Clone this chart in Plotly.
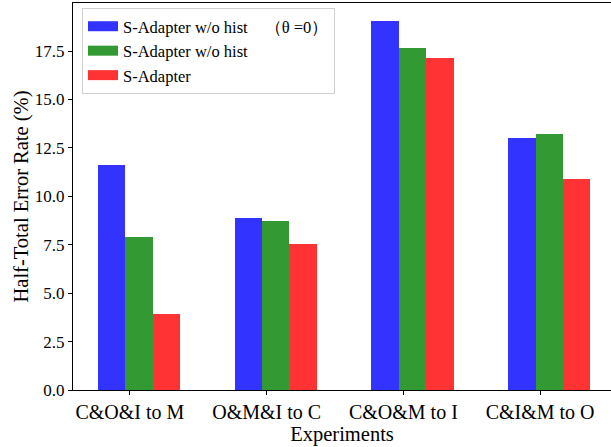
import plotly.graph_objects as go

categories = ["C&O&I to M", "O&M&I to C", "C&O&M to I", "C&I&M to O"]
series_names = ["S-Adapter w/o hist　（θ =0）", "S-Adapter w/o hist", "S-Adapter"]
blue_vals = [11.62, 8.88, 19.03, 13.01]
green_vals = [7.90, 8.72, 17.66, 13.22]
red_vals = [3.92, 7.54, 17.14, 10.89]
colors = ["#3333ff", "#339933", "#ff3333"]
y_ticks = [0, 2.5, 5, 7.5, 10, 12.5, 15, 17.5]

bar_w = 0.2
idx = list(range(len(categories)))
fig = go.Figure()
for k, (name, vals, col) in enumerate(zip(series_names, [blue_vals, green_vals, red_vals], colors)):
    fig.add_trace(go.Bar(
        x=[i + k * bar_w for i in idx], y=vals, width=bar_w,
        marker=dict(color=col, line=dict(width=0)), name=name, showlegend=False,
    ))
    fig.add_trace(go.Scatter(
        x=[None], y=[None], mode="lines", name=name,
        line=dict(color=col, width=12), showlegend=True,
    ))

font = "Liberation Serif, Times New Roman, serif"
fig.update_layout(
    width=619, height=447,
    margin=dict(l=73, r=8, t=3, b=57),
    plot_bgcolor="white", paper_bgcolor="white",
    font=dict(family=font, color="black"),
    showlegend=True, hovermode=False,
    legend=dict(
        x=(82 - 73) / 538, y=(390 - 8) / 387, xanchor="left", yanchor="top",
        bgcolor="white", bordercolor="#d0d0d0", borderwidth=1,
        font=dict(family=font, size=16.5, color="black"),
        tracegroupgap=0,
    ),
    xaxis=dict(
        range=[-0.283, 3.652], tickmode="array",
        tickvals=[i + bar_w * 2 / 3 for i in idx], ticktext=categories,
        showline=True, linecolor="black", linewidth=1.2, mirror=True,
        ticks="outside", ticklen=4, tickcolor="black", showgrid=False, zeroline=False,
        tickfont=dict(size=20, family=font), automargin=False,
        title=dict(text="Experiments", font=dict(size=20.5, family=font), standoff=0),
    ),
    yaxis=dict(
        range=[0, 19.98], tickmode="array", tickvals=y_ticks,
        ticktext=[f"{v:.1f}" for v in y_ticks],
        showline=True, linecolor="black", linewidth=1.2, mirror=False,
        ticks="outside", ticklen=4, tickcolor="black", showgrid=False, zeroline=False,
        tickfont=dict(size=17, family=font), automargin=False,
        title=dict(text="Half-Total Error Rate (%)", font=dict(size=20.5, family=font), standoff=0),
    ),
    bargap=0,
)
fig.write_html("out.html", config={"displayModeBar": False},
               post_script="document.body.style.margin='0';document.body.style.overflow='hidden';")
